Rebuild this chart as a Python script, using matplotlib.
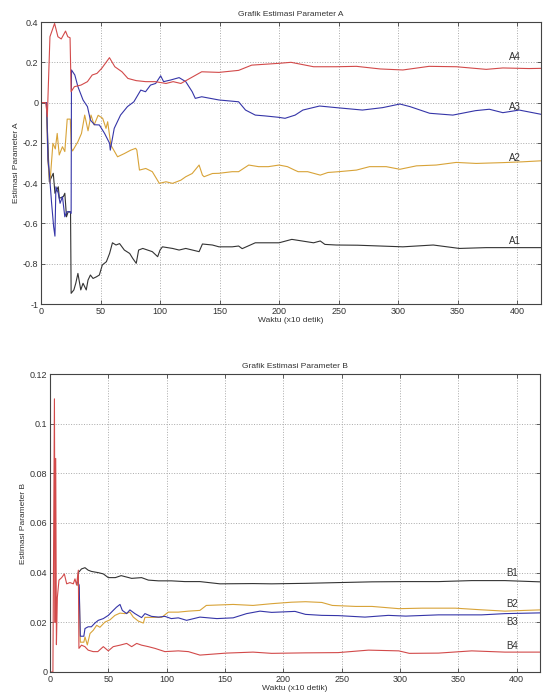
import matplotlib.pyplot as plt

plt.rcParams['font.family'] = ['Liberation Sans', 'DejaVu Sans']

# --- Parameter A ---
a1_x = [0, 4.5, 7, 10.3, 11.7, 14.5, 15.4, 18.7, 20, 21.4, 22.8, 24.8, 25.3, 27.6, 29.2, 31, 33.4, 35.3,
        38, 39.5, 41.5, 43.7, 46.5, 49, 51.5, 54.9, 57.6, 60, 63, 66, 70, 74.5, 77, 80, 82, 85.5, 89.5,
        93.5, 98, 100, 102, 110.5, 116, 121.6, 132.8, 135.6, 144, 149.5, 160.6, 166, 169, 180, 192.8,
        200, 210.7, 229, 234.6, 238.5, 248, 266, 304, 329.5, 351.5, 374, 399, 420]
a1_y = [0, 0, -0.393, -0.351, -0.45, -0.418, -0.475, -0.467, -0.45, -0.567, -0.542, -0.542, -0.947,
        -0.93, -0.897, -0.848, -0.93, -0.897, -0.93, -0.881, -0.856, -0.873, -0.865, -0.856, -0.806,
        -0.79, -0.749, -0.696, -0.707, -0.7, -0.732, -0.749, -0.773, -0.798, -0.732, -0.724, -0.732,
        -0.74, -0.765, -0.732, -0.716, -0.724, -0.732, -0.724, -0.74, -0.702, -0.707, -0.716, -0.716,
        -0.712, -0.725, -0.696, -0.696, -0.696, -0.679, -0.696, -0.687, -0.704, -0.707, -0.708,
        -0.716, -0.707, -0.724, -0.72, -0.72, -0.72]

a2_x = [0, 4.5, 5.8, 7.5, 10, 12, 13.6, 15.3, 18, 20, 22, 24.6, 25.5, 26.5, 31, 34, 36.7, 39.5, 42,
        44.6, 48, 51.8, 54.6, 56, 58.7, 64.3, 70, 75.4, 79.5, 80.5, 82.7, 88, 93.5, 99.4, 105, 110.5,
        117.5, 121.6, 127, 132.8, 135.6, 137, 144, 149.5, 160.6, 166, 174.5, 182.8, 191, 200, 207,
        213, 216, 224, 234.6, 241, 250, 265, 276, 290, 301.5, 315.4, 332, 348.8, 365.6, 388, 404.5, 420]
a2_y = [0, 0, -0.294, -0.4, -0.202, -0.23, -0.153, -0.26, -0.219, -0.243, -0.082, -0.082, -0.227,
        -0.24, -0.194, -0.153, -0.062, -0.14, -0.062, -0.111, -0.063, -0.078, -0.128, -0.095, -0.211,
        -0.269, -0.253, -0.236, -0.227, -0.236, -0.335, -0.327, -0.343, -0.401, -0.393, -0.401,
        -0.385, -0.368, -0.352, -0.31, -0.36, -0.368, -0.352, -0.351, -0.343, -0.343, -0.31, -0.318,
        -0.318, -0.31, -0.318, -0.335, -0.343, -0.343, -0.36, -0.347, -0.343, -0.335, -0.318,
        -0.318, -0.331, -0.314, -0.31, -0.297, -0.302, -0.298, -0.294, -0.289]

a3_x = [0, 4.7, 5.8, 7, 8.9, 10.6, 11.7, 12.5, 14.5, 16, 18, 20, 21.6, 24, 25.3, 25.6, 28.4, 31, 35.3,
        39, 41.5, 45, 49, 53.4, 57.6, 58.2, 61.5, 66.8, 72.6, 78, 83.8, 87.8, 92, 96.3, 100.5, 103,
        108.8, 116, 121.6, 127, 129.6, 135, 149.5, 166, 171.8, 180, 188, 199.6, 205, 213.5, 220,
        234, 248, 270, 287, 301.5, 310, 326.5, 346, 365, 376.6, 388, 401.7, 420]
a3_y = [0, 0, -0.285, -0.351, -0.5, -0.616, -0.663, -0.418, -0.45, -0.5, -0.467, -0.567, -0.542,
        -0.542, -0.55, 0.162, 0.137, 0.079, 0.013, -0.02, -0.087, -0.11, -0.111, -0.153, -0.202,
        -0.236, -0.128, -0.062, -0.02, 0.004, 0.062, 0.054, 0.087, 0.095, 0.133, 0.104, 0.112,
        0.124, 0.104, 0.054, 0.021, 0.029, 0.013, 0.004, -0.037, -0.062, -0.066, -0.073, -0.078,
        -0.062, -0.037, -0.017, -0.025, -0.037, -0.025, -0.007, -0.02, -0.053, -0.062, -0.04,
        -0.033, -0.05, -0.037, -0.058]

a4_x = [0, 4, 5.3, 7.5, 11.4, 14.2, 17, 20.6, 22.5, 24.4, 25.3, 28, 33.6, 39, 43, 47, 51, 57.5, 62,
        68, 73, 80, 88, 96, 105, 111, 117.5, 135, 149.5, 166, 177, 200, 210, 229, 248, 265, 285,
        304, 326, 349, 374, 388, 410, 420]
a4_y = [0, 0, -0.07, 0.327, 0.393, 0.327, 0.316, 0.355, 0.327, 0.322, 0.054, 0.079, 0.087, 0.104,
        0.137, 0.145, 0.17, 0.223, 0.178, 0.153, 0.12, 0.109, 0.104, 0.104, 0.095, 0.104, 0.095,
        0.153, 0.15, 0.16, 0.186, 0.195, 0.2, 0.178, 0.178, 0.18, 0.167, 0.162, 0.18, 0.178,
        0.165, 0.172, 0.169, 0.17]

# --- Parameter B ---
b1_x = [24, 24.3, 27, 30, 32.7, 35.5, 41.4, 45.7, 50, 56, 61, 70, 78.5, 84.3, 93, 104, 115.6,
        128.5, 145.7, 174, 190, 219, 247, 276, 305, 333, 361.5, 390, 420]
b1_y = [0.035, 0.040, 0.0415, 0.042, 0.041, 0.0405, 0.040, 0.0395, 0.038, 0.038, 0.0388, 0.0377,
        0.038, 0.037, 0.0367, 0.0367, 0.0364, 0.0364, 0.0355, 0.0356, 0.0355, 0.0357, 0.036,
        0.0363, 0.0364, 0.0364, 0.0368, 0.0368, 0.0363]

b2_x = [24, 25, 26, 29, 30, 32, 34.3, 37.1, 40, 42.8, 47.1, 51.4, 55.7, 60, 64.3, 68.5, 71.4, 75.7,
        80, 81.4, 95.7, 101.4, 110, 118.6, 128.5, 134, 157, 174, 190, 207, 219, 233, 242, 262,
        276, 299, 319, 347.5, 367.5, 390, 407, 420]
b2_y = [0.035, 0.034, 0.012, 0.012, 0.0141, 0.0109, 0.0155, 0.0168, 0.0188, 0.018, 0.0201, 0.021,
        0.0228, 0.0237, 0.0235, 0.0241, 0.0221, 0.0205, 0.0197, 0.022, 0.022, 0.0241, 0.0241,
        0.0245, 0.0248, 0.0268, 0.0272, 0.0268, 0.0275, 0.0281, 0.0283, 0.028, 0.0268, 0.0264,
        0.0264, 0.0255, 0.0257, 0.0257, 0.0251, 0.0245, 0.0248, 0.025]

b3_x = [24, 25, 26, 29, 30, 32.7, 35.5, 38.5, 41.4, 45.7, 50, 54.2, 57, 60, 62, 65.7, 68.5, 72.8,
        78.5, 81.4, 87, 93, 98.5, 104, 110, 117.1, 128.5, 143, 157, 168.5, 180, 190, 210, 219,
        233, 247, 270, 290, 305, 333, 356, 370, 390, 420]
b3_y = [0.036, 0.035, 0.0144, 0.0144, 0.0175, 0.0182, 0.0182, 0.0197, 0.0208, 0.0215, 0.0228,
        0.0248, 0.0261, 0.0272, 0.0248, 0.0235, 0.025, 0.0235, 0.0219, 0.0235, 0.0224, 0.0221,
        0.0224, 0.0215, 0.0218, 0.0208, 0.0221, 0.0215, 0.0218, 0.0235, 0.0245, 0.024, 0.0244,
        0.0232, 0.0228, 0.0227, 0.0221, 0.0228, 0.0225, 0.023, 0.023, 0.023, 0.0235, 0.0238]

b4_x = [0, 2.5, 3.8, 4.4, 4.9, 5.5, 6.3, 7.7, 10, 12.3, 14.3, 17.1, 20, 21.4, 22.8, 24.3, 24.8, 27,
        29.9, 32.7, 37, 41, 45.7, 50, 54.2, 60, 65.7, 70, 74.3, 78.5, 84.3, 90, 98.5, 110, 118.6,
        128.5, 151, 174, 190, 219, 247, 273, 299, 308, 333, 361.5, 390, 420]
b4_y = [0, 0, 0.110, 0.02, 0.086, 0.011, 0.03, 0.037, 0.038, 0.0395, 0.0355, 0.036, 0.0355, 0.0375,
        0.035, 0.041, 0.0095, 0.0108, 0.0102, 0.0088, 0.0082, 0.0082, 0.0102, 0.0085, 0.0102,
        0.0108, 0.0115, 0.0102, 0.0115, 0.0108, 0.0102, 0.0095, 0.0082, 0.0085, 0.0082, 0.0068,
        0.0076, 0.008, 0.0075, 0.0077, 0.0078, 0.0088, 0.0085, 0.0075, 0.0076, 0.0085, 0.008, 0.008]

xticks = [0, 50, 100, 150, 200, 250, 300, 350, 400]
a_yticks = [-1, -0.8, -0.6, -0.4, -0.2, 0, 0.2, 0.4]
a_yticklabels = ['-1', '-0.8', '-0.6', '-0.4', '-0.2', '0', '0.2', '0.4']
b_yticks = [0, 0.02, 0.04, 0.06, 0.08, 0.1, 0.12]
b_yticklabels = ['0', '0.02', '0.04', '0.06', '0.08', '0.1', '0.12']

a_labels = [('A4', 393, 0.226), ('A3', 393, -0.022), ('A2', 393, -0.275), ('A1', 393, -0.687)]
b_labels = [('B1', 391, 0.0399), ('B2', 391, 0.0274), ('B3', 391, 0.0201), ('B4', 391, 0.0105)]

RED = '#d24a4a'
BLUE = '#3535a8'
YEL = '#d8a338'
BLK = '#333333'

fig = plt.figure(figsize=(5.44, 6.97), dpi=100)
ax1 = fig.add_axes([0.0754, 0.5638, 0.919, 0.4046])
ax2 = fig.add_axes([0.0919, 0.0359, 0.9007, 0.4275])


def style(ax, yticks, ylabels, ylim, title, ylabel):
    ax.set_xlim(0, 420)
    ax.set_ylim(*ylim)
    ax.set_xticks(xticks)
    ax.set_xticklabels([str(t) for t in xticks])
    ax.set_yticks(yticks)
    ax.set_yticklabels(ylabels)
    ax.grid(True, linestyle=':', color='#aaaaaa', linewidth=0.7)
    ax.tick_params(direction='in', top=True, right=True, length=3, width=0.6,
                   labelsize=6.5, labelcolor='#333333', color='#444444', pad=2)
    for s in ax.spines.values():
        s.set_linewidth(0.8)
        s.set_color('#444444')
    ax.set_title(title, fontsize=6, color='#333333', pad=4)
    ax.set_xlabel('Waktu (x10 detik)', fontsize=6, color='#333333', labelpad=1)
    ax.set_ylabel(ylabel, fontsize=6, color='#333333', labelpad=2)


ax1.plot(a1_x, a1_y, color=BLK, lw=0.8)
ax1.plot(a2_x, a2_y, color=YEL, lw=0.8)
ax1.plot(a3_x, a3_y, color=BLUE, lw=0.8)
ax1.plot(a4_x, a4_y, color=RED, lw=0.8)
for name, x, y in a_labels:
    ax1.text(x, y, name, fontsize=7, color='#333333', ha='left', va='center')
style(ax1, a_yticks, a_yticklabels, (-1, 0.4), 'Grafik Estimasi Parameter A', 'Estimasi Parameter A')

ax2.plot(b1_x, b1_y, color=BLK, lw=0.8)
ax2.plot(b2_x, b2_y, color=YEL, lw=0.8)
ax2.plot(b3_x, b3_y, color=BLUE, lw=0.8)
ax2.plot(b4_x, b4_y, color=RED, lw=0.8)
for name, x, y in b_labels:
    ax2.text(x, y, name, fontsize=7, color='#333333', ha='left', va='center')
style(ax2, b_yticks, b_yticklabels, (0, 0.12), 'Grafik Estimasi Parameter B', 'Estimasi Parameter B')

fig.savefig('out.png', dpi=100)
